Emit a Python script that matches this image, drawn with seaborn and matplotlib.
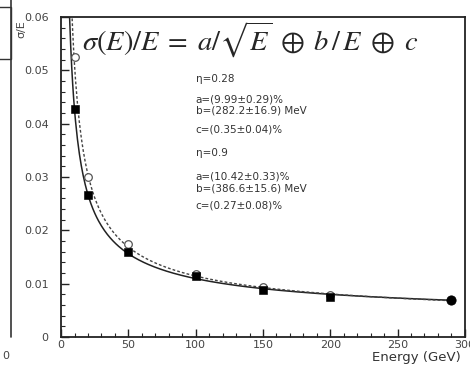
import numpy as np
import pandas as pd
import matplotlib
matplotlib.use("Agg")
import matplotlib.pyplot as plt
from matplotlib.lines import Line2D
from matplotlib.patches import Rectangle
import seaborn as sns

energy = [10, 20, 50, 100, 150, 200, 290]
res_eta028 = [0.0428, 0.0266, 0.0160, 0.0115, 0.0089, 0.0076, 0.0070]
res_eta09 = [0.0524, 0.0300, 0.0174, 0.0118, 0.0093, 0.0078, 0.0069]

# fit parameters (a, b in GeV, c)
fit_028 = (0.0999, 0.2822, 0.0035)
fit_09 = (0.1042, 0.3866, 0.0027)

info_lines = ["η=0.28", "a=(9.99±0.29)%", "b=(282.2±16.9) MeV", "c=(0.35±0.04)%",
              "η=0.9", "a=(10.42±0.33)%", "b=(386.6±15.6) MeV", "c=(0.27±0.08)%"]
info_y = [0.0484, 0.0445, 0.0424, 0.0388, 0.0344, 0.0300, 0.0278, 0.0247]


def resol(E, p):
    a, b, c = p
    return np.sqrt((a / np.sqrt(E)) ** 2 + (b / E) ** 2 + c ** 2)


Egrid = np.linspace(5, 290, 400)
curves = pd.concat([
    pd.DataFrame({"E": Egrid, "res": resol(Egrid, fit_028), "eta": "0.28"}),
    pd.DataFrame({"E": Egrid, "res": resol(Egrid, fit_09), "eta": "0.9"}),
])

sns.set_style("ticks")
plt.rcParams["mathtext.fontset"] = "stix"
fig = plt.figure(figsize=(4.7, 3.66), dpi=100)
ax = fig.add_axes([0.130, 0.079, 0.859, 0.875])

sns.lineplot(data=curves[curves.eta == "0.28"], x="E", y="res", color="#222222",
             lw=1.1, ax=ax, legend=False)
sns.lineplot(data=curves[curves.eta == "0.9"], x="E", y="res", color="#444444",
             lw=1.0, ls=(0, (2, 1.5)), ax=ax, legend=False)

sns.scatterplot(x=energy, y=res_eta09, marker="o", s=30, facecolor="white",
                edgecolor="#555555", linewidth=0.9, ax=ax, zorder=3)
sns.scatterplot(x=energy[:-1], y=res_eta028[:-1], marker="s", s=28, color="black",
                edgecolor="black", ax=ax, zorder=4)
sns.scatterplot(x=energy[-1:], y=res_eta028[-1:], marker="o", s=45, color="black",
                edgecolor="black", ax=ax, zorder=4)

ax.set_xlim(0, 300)
ax.set_ylim(0, 0.06)
ax.set_xticks([0, 50, 100, 150, 200, 250, 300])
ax.set_xticks(np.arange(0, 301, 10), minor=True)
ax.set_yticks([0, 0.01, 0.02, 0.03, 0.04, 0.05, 0.06])
ax.set_yticks(np.arange(0, 0.0601, 0.002), minor=True)
ax.set_yticklabels(["0", "0.01", "0.02", "0.03", "0.04", "0.05", "0.06"])
ax.tick_params(direction="in", length=6, width=1, labelsize=8, colors="#222222",
               labelcolor="#444444")
ax.tick_params(axis="y", pad=9)
ax.tick_params(axis="x", pad=2)
ax.tick_params(which="minor", direction="in", length=3, width=0.8)
for sp in ax.spines.values():
    sp.set_linewidth(1.3)
    sp.set_color("#222222")
ax.set_xlabel("")
ax.set_ylabel("")

ax.text(0.052, 0.895,
        r"$\sigma(E)/E\;=\;a/\sqrt{E}\;\oplus\;b\,/\,E\;\oplus\;c$",
        transform=ax.transAxes, fontsize=20.5, va="baseline")
for t, yy in zip(info_lines, info_y):
    ax.text(100, yy, t, fontsize=7.5, color="#333333", va="center")

fig.text(0.98, 0.022, "Energy (GeV)", ha="right", va="center", fontsize=9.5, color="#333333")
fig.text(0.045, 0.92, "σ/E", rotation=90, ha="center", va="center", fontsize=8, color="#444444")

# edge of the neighbouring panel
fig.add_artist(Line2D([0.024, 0.024], [0.079, 1.0], color="#333333", lw=1.2))
fig.add_artist(Rectangle((-0.01, 0.84), 0.034, 0.14, fill=False, ec="#333333", lw=1.0))
fig.text(0.005, 0.02, "0", fontsize=8, color="#444444")

plt.savefig("out.png", dpi=100)
